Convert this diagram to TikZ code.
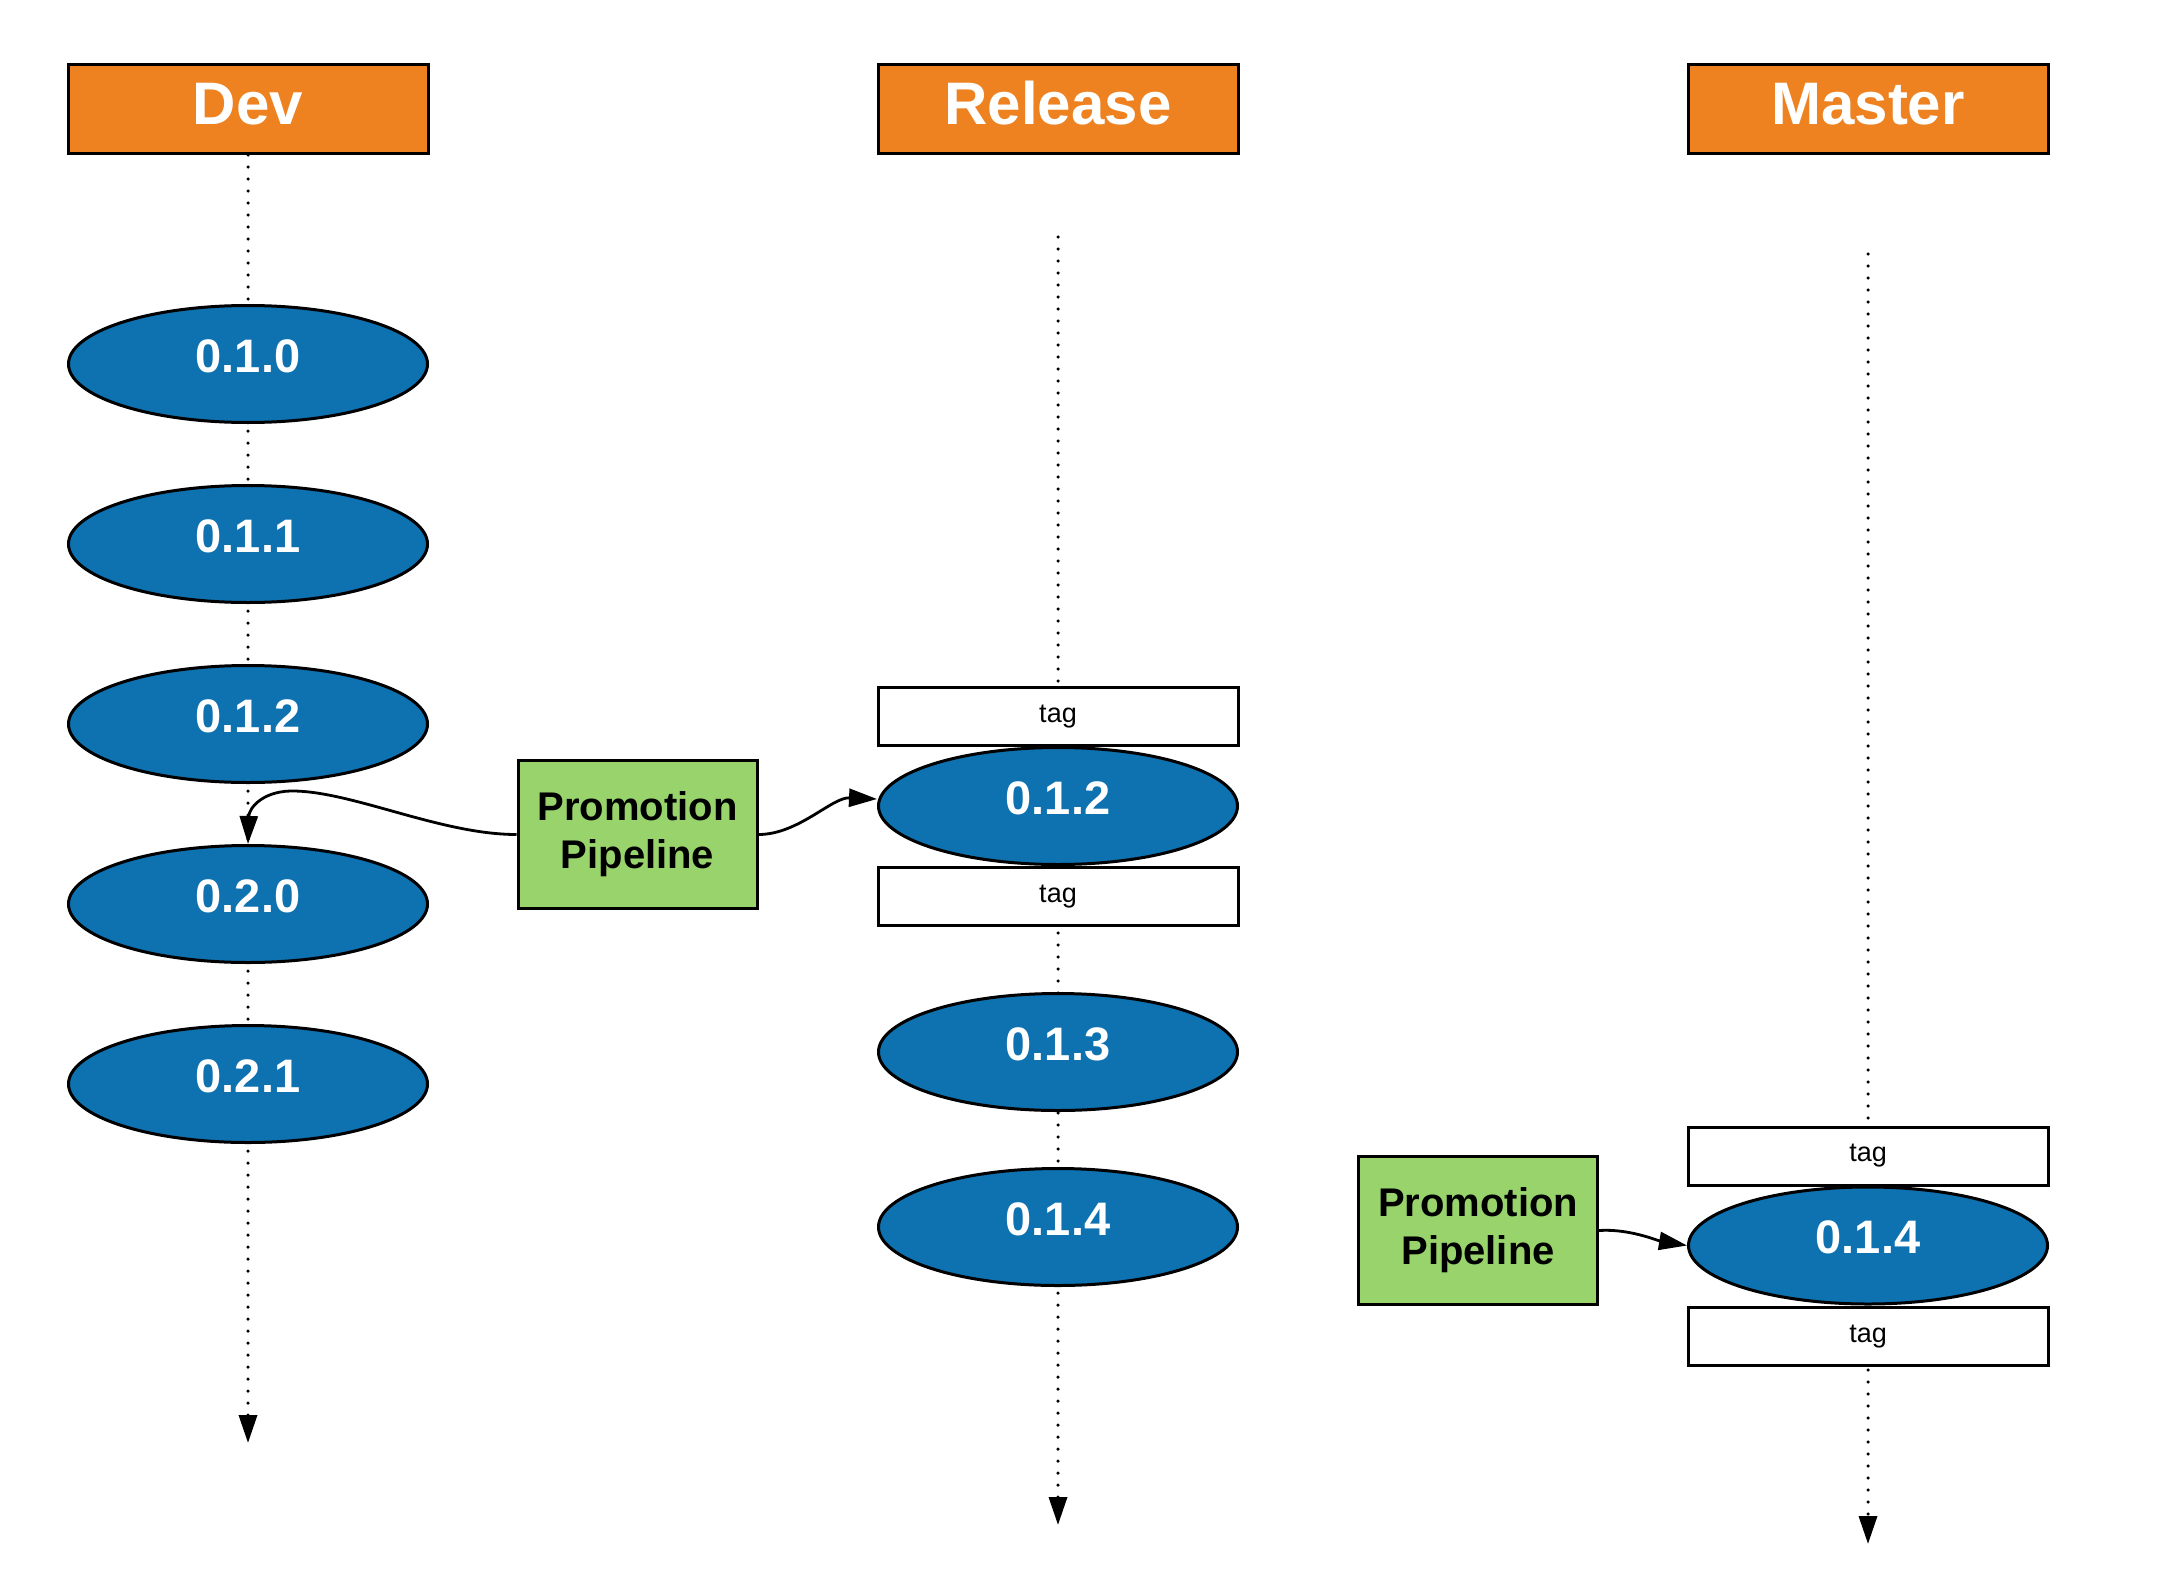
\documentclass[tikz,border=0pt]{standalone}
\usepackage{fontspec}
\setmainfont{Liberation Sans}
\usetikzlibrary{shapes.geometric,arrows.meta}
\definecolor{hdrorange}{RGB}{238,130,33}
\definecolor{verblue}{RGB}{14,113,176}
\definecolor{pipegreen}{RGB}{152,211,108}
\pgfdeclarelayer{bg}
\pgfsetlayers{bg,main}
\begin{document}
\begin{tikzpicture}[x=1pt,y=-1pt,
  hdr/.style={draw=black,line width=3pt,fill=hdrorange,text=white,
    minimum width=360pt,minimum height=89pt,inner sep=0pt,
    font=\fontsize{60}{70}\selectfont\bfseries,text height=43pt,text depth=12pt},
  ver/.style={ellipse,draw=black,line width=3pt,fill=verblue,text=white,
    minimum width=359pt,minimum height=117pt,inner sep=0pt,
    font=\fontsize{47}{56}\selectfont\bfseries,text height=33.5pt,text depth=17pt},
  tagbox/.style={draw=black,line width=3pt,fill=white,
    minimum width=360pt,minimum height=58pt,inner sep=0pt,
    font=\fontsize{27}{32}\selectfont},
  pipe/.style={draw=black,line width=3pt,fill=pipegreen,align=center,
    minimum width=239pt,minimum height=148pt,inner sep=0pt,
    font=\fontsize{40}{48}\selectfont\bfseries},
  lane/.style={line width=3.5pt,dash pattern=on 0pt off 12pt,line cap=round,
    -{Triangle[length=28pt,width=18pt,line cap=butt]}},
  conn/.style={line width=2.8pt,-{Triangle[length=28pt,width=18pt]}}
]
\useasboundingbox (0,0) rectangle (2176,1584);

% headers
\node[hdr] (dev) at (248,109) {Dev};
\node[hdr] (rel) at (1058,109) {Release};
\node[hdr] (mas) at (1868,109) {Master};

% dev versions
\node[ver] (d010) at (248,364) {0.1.0};
\node[ver] (d011) at (248,544) {0.1.1};
\node[ver] (d012) at (248,724) {0.1.2};
\node[ver] (d020) at (248,904) {0.2.0};
\node[ver] (d021) at (248,1084) {0.2.1};

% release
\node[tagbox] (rtag1) at (1058,716.5) {tag};
\node[ver] (r012) at (1058,806) {0.1.2};
\node[tagbox] (rtag2) at (1058,896.5) {tag};
\node[ver] (r013) at (1058,1052) {0.1.3};
\node[ver] (r014) at (1058,1227) {0.1.4};

% master
\node[tagbox] (mtag1) at (1868,1156) {tag};
\node[ver] (m014) at (1868,1245.5) {0.1.4};
\node[tagbox] (mtag2) at (1868,1336.5) {tag};

% pipelines
\node[pipe] (pp1) at (637.5,834.5) {Promotion\\Pipeline};
\node[pipe] (pp2) at (1478,1230.5) {Promotion\\Pipeline};

% lane coordinates
\coordinate (devend) at (248,1443);
\coordinate (relstart) at (1058,237);
\coordinate (relend) at (1058,1525);
\coordinate (masstart) at (1868,254);
\coordinate (masend) at (1868,1544);
\coordinate (loop) at (290,791);

\begin{pgfonlayer}{bg}
\draw[lane] (dev.south) -- (devend);
\draw[lane] (relstart) -- (relend);
\draw[lane] (masstart) -- (masend);
\end{pgfonlayer}

% connectors
\draw[conn] (pp1.west) .. controls +(-77,0) and +(60,-1) .. (loop)
  .. controls +(-28,1) and +(1,-36) .. (d020.north);
\draw[conn] (pp1.east) .. controls +(40,0) and +(-45,-2) .. ([yshift=7pt]r012.west);
\draw[conn] (pp2.east) .. controls +(30,-2) and +(-30,-5) .. (m014.west);
\end{tikzpicture}
\end{document}
